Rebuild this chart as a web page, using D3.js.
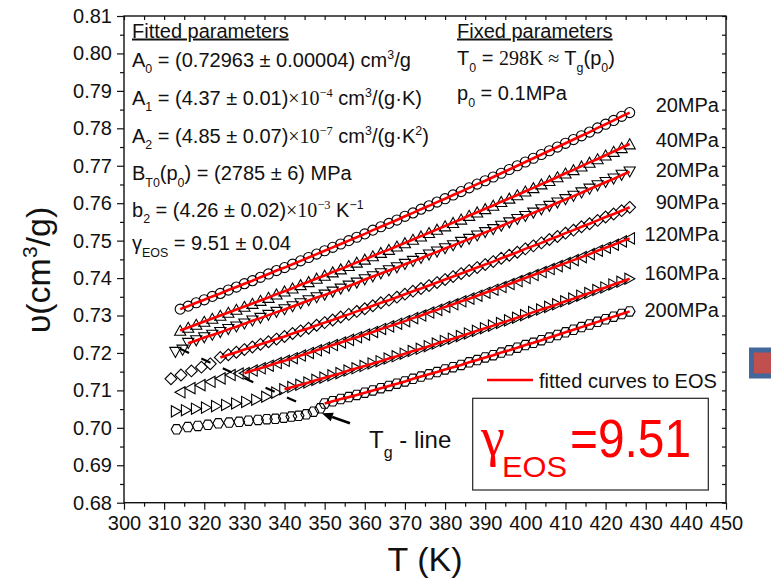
<!DOCTYPE html>
<html>
<head>
<meta charset="utf-8">
<script src="https://cdn.jsdelivr.net/npm/d3@7"></script>
<style>
  html, body { margin: 0; padding: 0; background: #fff; }
  svg { display: block; font-family: "Liberation Sans", Arial, sans-serif; }
  text { white-space: pre; }
</style>
</head>
<body>
<svg id="chart" width="771" height="581"></svg>
<script>
// ---------- data ----------
// common temperature grid (K) of the equilibrium-melt isobars
const meltTemps = [314,316,318,320,322,324,326,328,330,332,334,336,338,340,342,344,346,348,350,352,354,356,358,360,362,364,366,368,370,372,374,376,378,380,382,384,386,388,390,392,394,396,398,400,402,404,406,408,410,412,414,416,418,420,422,424,426];

const pressureLabels = ["20MPa", "40MPa", "20MPa", "90MPa", "120MPa", "160MPa", "200MPa"];

// specific volume (cm3/g) above Tg, aligned to the end of meltTemps
const melt20a = [0.7317,0.7325,0.7334,0.7342,0.7351,0.7359,0.7368,0.7376,0.7385,0.7393,0.7402,0.7411,0.7420,0.7428,0.7437,0.7446,0.7455,0.7464,0.7473,0.7482,0.7491,0.7500,0.7509,0.7518,0.7528,0.7537,0.7546,0.7555,0.7565,0.7574,0.7584,0.7593,0.7603,0.7612,0.7622,0.7631,0.7641,0.7651,0.7660,0.7670,0.7680,0.7690,0.7700,0.7710,0.7720,0.7730,0.7740,0.7750,0.7760,0.7770,0.7780,0.7790,0.7801,0.7811,0.7821,0.7832,0.7842];
const melt40 = [0.7260,0.7268,0.7276,0.7284,0.7292,0.7300,0.7308,0.7316,0.7324,0.7332,0.7340,0.7348,0.7357,0.7365,0.7373,0.7382,0.7390,0.7399,0.7407,0.7416,0.7424,0.7433,0.7442,0.7450,0.7459,0.7468,0.7476,0.7485,0.7494,0.7503,0.7512,0.7521,0.7530,0.7539,0.7548,0.7557,0.7567,0.7576,0.7585,0.7594,0.7604,0.7613,0.7622,0.7632,0.7641,0.7651,0.7660,0.7670,0.7680,0.7689,0.7699,0.7709,0.7718,0.7728,0.7738,0.7748,0.7758];
const melt20b = [0.7226,0.7233,0.7241,0.7248,0.7255,0.7263,0.7270,0.7278,0.7286,0.7293,0.7301,0.7309,0.7316,0.7324,0.7332,0.7340,0.7348,0.7355,0.7363,0.7371,0.7379,0.7387,0.7396,0.7404,0.7412,0.7420,0.7428,0.7437,0.7445,0.7453,0.7462,0.7470,0.7479,0.7487,0.7496,0.7504,0.7513,0.7522,0.7530,0.7539,0.7548,0.7557,0.7565,0.7574,0.7583,0.7592,0.7601,0.7610,0.7619,0.7628,0.7638,0.7647,0.7656,0.7665,0.7675,0.7684];
const melt90 = [0.7188,0.7195,0.7202,0.7209,0.7216,0.7223,0.7230,0.7237,0.7244,0.7252,0.7259,0.7266,0.7274,0.7281,0.7288,0.7296,0.7303,0.7311,0.7318,0.7326,0.7334,0.7341,0.7349,0.7357,0.7365,0.7372,0.7380,0.7388,0.7396,0.7404,0.7412,0.7420,0.7428,0.7436,0.7444,0.7453,0.7461,0.7469,0.7478,0.7486,0.7494,0.7503,0.7511,0.7520,0.7528,0.7537,0.7545,0.7554,0.7563,0.7571,0.7580,0.7589];
const melt120 = [0.7146,0.7153,0.7159,0.7166,0.7173,0.7179,0.7186,0.7193,0.7200,0.7207,0.7214,0.7221,0.7228,0.7235,0.7242,0.7249,0.7256,0.7264,0.7271,0.7278,0.7285,0.7293,0.7300,0.7308,0.7315,0.7323,0.7330,0.7338,0.7345,0.7353,0.7361,0.7369,0.7376,0.7384,0.7392,0.7400,0.7408,0.7416,0.7424,0.7432,0.7440,0.7448,0.7456,0.7464,0.7473,0.7481,0.7489,0.7498,0.7506];
const melt160 = [0.7103,0.7109,0.7115,0.7121,0.7128,0.7134,0.7140,0.7146,0.7153,0.7159,0.7165,0.7172,0.7178,0.7185,0.7191,0.7198,0.7205,0.7211,0.7218,0.7225,0.7232,0.7238,0.7245,0.7252,0.7259,0.7266,0.7273,0.7280,0.7287,0.7294,0.7301,0.7309,0.7316,0.7323,0.7330,0.7338,0.7345,0.7353,0.7360,0.7368,0.7375,0.7383,0.7390,0.7398];
const melt200 = [0.7065,0.7071,0.7077,0.7082,0.7088,0.7094,0.7100,0.7106,0.7112,0.7118,0.7124,0.7131,0.7137,0.7143,0.7149,0.7156,0.7162,0.7168,0.7175,0.7181,0.7188,0.7194,0.7201,0.7207,0.7214,0.7221,0.7227,0.7234,0.7241,0.7248,0.7255,0.7262,0.7269,0.7276,0.7283,0.7290,0.7297,0.7304,0.7311];

// glassy-state points below Tg (temperature K, volume cm3/g)
const glassT20b = [312.8, 314.6];
const glassV20b = [0.7202, 0.7208];
const glassT90 = [311.7, 314.2, 316.8, 319.3, 321.5];
const glassV90 = [0.7131, 0.7141, 0.7152, 0.7162, 0.7171];
const glassT120 = [314.0, 316.5, 319.0, 321.5, 324.0, 326.5, 328.5];
const glassV120 = [0.7095, 0.7106, 0.7114, 0.7123, 0.7132, 0.7141, 0.7145];
const glassT160 = [313.0, 315.5, 318.0, 320.5, 323.0, 325.5, 328.0, 330.5, 333.0, 335.5, 338.0];
const glassV160 = [0.7044, 0.7047, 0.7051, 0.7054, 0.7058, 0.7061, 0.7065, 0.7069, 0.7075, 0.7083, 0.7094];
const glassT200 = [313.1, 315.9, 318.4, 320.9, 323.5, 326.2, 328.7, 331.0, 333.4, 335.6, 337.7, 339.8, 341.7, 343.5, 345.4, 347.2, 348.9];
const glassV200 = [0.6996, 0.7002, 0.7005, 0.7008, 0.7012, 0.7014, 0.7016, 0.7019, 0.7021, 0.7023, 0.7024, 0.7027, 0.7030, 0.7032, 0.7036, 0.7043, 0.7052];

// glass-transition line (T, v) end points and the arrow pointing at it
const tgLineT = [313.95, 343.1];
const tgLineV = [0.7211, 0.7069];
const tgArrowT = [356.3, 349.3];
const tgArrowV = [0.70121, 0.70388];

// axis ticks
const xTicks = [300,310,320,330,340,350,360,370,380,390,400,410,420,430,440,450];
const xMinor = [305,315,325,335,345,355,365,375,385,395,405,415,425,435,445];
const yTicks = [0.68,0.69,0.70,0.71,0.72,0.73,0.74,0.75,0.76,0.77,0.78,0.79,0.80,0.81];
const yMinor = [0.685,0.695,0.705,0.715,0.725,0.735,0.745,0.755,0.765,0.775,0.785,0.795,0.805];

// ---------- layout ----------
const svg = d3.select("#chart");
const L = 124, R = 726, T = 16, B = 502.7;
const x = d3.scaleLinear().domain([300, 450]).range([L, R]);
const y = d3.scaleLinear().domain([0.68, 0.81]).range([B, T]);
const FONT = 20;

// marker outlines
const shapes = {
  circle: d3.symbol(d3.symbolCircle, 80)(),
  up: "M0,-5.2L5.6,4.8L-5.6,4.8Z",
  down: "M0,5.2L5.6,-4.8L-5.6,-4.8Z",
  diamond: "M0,-5.9L5.9,0L0,5.9L-5.9,0Z",
  left: "M-5.2,0L4.8,-5.6L4.8,5.6Z",
  right: "M5.2,0L-4.8,-5.6L-4.8,5.6Z",
  hexagon: "M-5.4,0L-2.7,-4.7L2.7,-4.7L5.4,0L2.7,4.7L-2.7,4.7Z"
};

const series = [
  { melt: melt20a, gT: [], gV: [], shape: "circle" },
  { melt: melt40, gT: [], gV: [], shape: "up" },
  { melt: melt20b, gT: glassT20b, gV: glassV20b, shape: "down" },
  { melt: melt90, gT: glassT90, gV: glassV90, shape: "diamond" },
  { melt: melt120, gT: glassT120, gV: glassV120, shape: "left" },
  { melt: melt160, gT: glassT160, gV: glassV160, shape: "right" },
  { melt: melt200, gT: glassT200, gV: glassV200, shape: "hexagon" }
].map((s, i) => {
  const temps = meltTemps.slice(meltTemps.length - s.melt.length);
  const meltPts = temps.map((t, j) => [t, s.melt[j]]);
  const glassPts = s.gT.map((t, j) => [t, s.gV[j]]);
  return { ...s, label: pressureLabels[i], meltPts, pts: glassPts.concat(meltPts) };
});

// ---------- axes ----------
function styleAxis(g) {
  g.select(".domain").remove();
  g.selectAll("line").attr("stroke", "#111").attr("stroke-width", 1.2);
  g.selectAll("text").attr("font-size", FONT).attr("fill", "#111")
    .attr("font-family", "Liberation Sans, Arial, sans-serif");
}
svg.append("g").attr("transform", `translate(0,${B})`)
  .call(d3.axisBottom(x).tickValues(xTicks).tickSize(7).tickPadding(6).tickFormat(d3.format("d"))).call(styleAxis);
svg.append("g").attr("transform", `translate(0,${B})`)
  .call(d3.axisBottom(x).tickValues(xMinor).tickSize(4).tickFormat("")).call(styleAxis);
svg.append("g").attr("transform", `translate(${L},0)`)
  .call(d3.axisLeft(y).tickValues(yTicks).tickSize(7).tickPadding(5).tickFormat(d3.format(".2f"))).call(styleAxis);
svg.append("g").attr("transform", `translate(${L},0)`)
  .call(d3.axisLeft(y).tickValues(yMinor).tickSize(4).tickFormat("")).call(styleAxis);
// mirrored inward ticks on top and right
svg.append("g").attr("transform", `translate(0,${T})`)
  .call(d3.axisTop(x).tickValues(xTicks.concat(xMinor)).tickSize(-4).tickFormat("")).call(styleAxis);
svg.append("g").attr("transform", `translate(${R},0)`)
  .call(d3.axisRight(y).tickValues(yTicks.concat(yMinor)).tickSize(-4).tickFormat("")).call(styleAxis);
svg.append("rect").attr("x", L).attr("y", T).attr("width", R - L).attr("height", B - T)
  .attr("fill", "none").attr("stroke", "#111").attr("stroke-width", 1.4);

// axis titles
const yTitle = svg.append("text").attr("transform", "translate(50,270) rotate(-90)")
  .attr("text-anchor", "middle").attr("font-size", 34).attr("fill", "#111");
yTitle.append("tspan").text("υ(cm");
yTitle.append("tspan").text("3").attr("font-size", 21).attr("dy", -13);
yTitle.append("tspan").text("/g)").attr("dy", 13);
svg.append("text").attr("x", (L + R) / 2).attr("y", 571).attr("text-anchor", "middle")
  .attr("font-size", 34).attr("fill", "#111").text("T (K)");

// ---------- data marks ----------
const plot = svg.append("g");

// glass-transition (Tg) dashed line
plot.append("path")
  .attr("d", d3.line().x(d => x(d[0])).y(d => y(d[1]))(tgLineT.map((t, i) => [t, tgLineV[i]])))
  .attr("stroke", "#000").attr("stroke-width", 2.2).attr("stroke-dasharray", "10 13.5").attr("fill", "none");

series.forEach(s => {
  plot.append("g").selectAll("path").data(s.pts).join("path")
    .attr("transform", d => `translate(${x(d[0])},${y(d[1])})`)
    .attr("d", shapes[s.shape])
    .attr("fill", "none").attr("stroke", "#000").attr("stroke-width", 1.1);
});

// fitted EOS curves through the equilibrium points
const fitLine = d3.line().x(d => x(d[0])).y(d => y(d[1]));
series.forEach(s => {
  plot.append("path").attr("d", fitLine(s.meltPts))
    .attr("fill", "none").attr("stroke", "#ff0000").attr("stroke-width", 2.6);
});

// pressure labels at the high-temperature end of each isobar
const labelDy = [-0.7, 2.9, 5.2, 1.2, 2.5, 1.4, 5.3];
series.forEach((s, i) => {
  const last = s.meltPts[s.meltPts.length - 1];
  svg.append("text").attr("x", 719).attr("y", y(last[1]) + labelDy[i])
    .attr("text-anchor", "end").attr("font-size", FONT).attr("fill", "#111").text(s.label);
});

// Tg-line arrow
{
  const x0 = x(tgArrowT[0]), y0 = y(tgArrowV[0]);
  const x1 = x(tgArrowT[1]), y1 = y(tgArrowV[1]);
  const ang = Math.atan2(y1 - y0, x1 - x0);
  const hl = 11, hw = 4.5;
  const bx = x1 - hl * Math.cos(ang), by = y1 - hl * Math.sin(ang);
  svg.append("line").attr("x1", x0).attr("y1", y0).attr("x2", bx).attr("y2", by)
    .attr("stroke", "#000").attr("stroke-width", 2.6);
  svg.append("path").attr("d",
    `M${x1},${y1}L${bx + hw * Math.sin(ang)},${by - hw * Math.cos(ang)}L${bx - hw * Math.sin(ang)},${by + hw * Math.cos(ang)}Z`)
    .attr("fill", "#000");
}
const tgText = svg.append("text").attr("x", 369).attr("y", 448).attr("font-size", 24).attr("fill", "#111");
tgText.append("tspan").text("T");
tgText.append("tspan").text("g").attr("font-size", 16).attr("dy", 10);
tgText.append("tspan").text(" - line").attr("dy", -10);

// ---------- text blocks ----------
function richLine(x0, y0, segs, size) {
  const t = svg.append("text").attr("x", x0).attr("y", y0).attr("font-size", size).attr("fill", "#111");
  let shift = 0;
  segs.forEach(s => {
    const [str, kind] = Array.isArray(s) ? s : [s, ""];
    const small = kind.includes("sub") || kind.includes("sup");
    const target = kind.includes("sub") ? 6.5 : kind.includes("sup") ? -8 : 0;
    const ts = t.append("tspan").text(str).attr("dy", target - shift);
    shift = target;
    if (small) ts.attr("font-size", size * 0.62);
    if (kind.includes("serif")) ts.attr("font-family", "Liberation Serif, Times New Roman, serif");
  });
  return t;
}

const X1 = 132, X2 = 457;
richLine(X1, 37.5, ["Fitted parameters"], FONT).attr("text-decoration", "underline");
richLine(X1, 66.7, ["A", ["0", "sub"], " = (0.72963 ± 0.00004) cm", ["3", "sup"], "/g"], FONT);
richLine(X1, 104.5, ["A", ["1", "sub"], " = (4.37 ± 0.01)", ["×10", "serif"], ["−4", "serif sup"], " cm", ["3", "sup"], "/(g·K)"], FONT);
richLine(X1, 142.5, ["A", ["2", "sub"], " = (4.85 ± 0.07)", ["×10", "serif"], ["−7", "serif sup"], " cm", ["3", "sup"], "/(g·K", ["2", "sup"], ")"], FONT);
richLine(X1, 180, ["B", ["T0", "sub"], "(p", ["0", "sub"], ") = (2785 ± 6) MPa"], FONT);
richLine(X1, 216.5, ["b", ["2", "sub"], " = (4.26 ± 0.02)", ["×10", "serif"], ["−3", "serif sup"], " K", ["−1", "sup"]], FONT);
richLine(X1, 250, ["γ", ["EOS", "sub"], " = 9.51 ± 0.04"], FONT);

richLine(X2, 37.5, ["Fixed parameters"], FONT).attr("text-decoration", "underline");
richLine(X2, 65, ["T", ["0", "sub"], " = ", ["298K ≈ ", "serif"], "T", ["g", "sub"], "(p", ["0", "sub"], ")"], FONT);
richLine(X2, 100, ["p", ["0", "sub"], " = 0.1MPa"], FONT);

// ---------- legend ----------
svg.append("line").attr("x1", 487).attr("x2", 533).attr("y1", 380).attr("y2", 380)
  .attr("stroke", "#ff0000").attr("stroke-width", 2.6);
svg.append("text").attr("x", 539).attr("y", 388).attr("font-size", FONT).attr("fill", "#111")
  .text("fitted curves to EOS");

// highlighted exponent box
svg.append("rect").attr("x", 472.7).attr("y", 398.3).attr("width", 235.6).attr("height", 91.7)
  .attr("fill", "#fff").attr("stroke", "#222").attr("stroke-width", 1.2);
svg.append("text").attr("x", 481).attr("y", 455).attr("font-size", 54).attr("fill", "#ff0000")
  .attr("font-family", "Liberation Serif, serif").text("γ");
svg.append("text").attr("x", 502).attr("y", 476.7).attr("font-size", 30).attr("fill", "#ff0000")
  .attr("textLength", 65).attr("lengthAdjust", "spacingAndGlyphs").text("EOS");
svg.append("text").attr("x", 570).attr("y", 456.7).attr("font-size", 54).attr("fill", "#ff0000")
  .attr("textLength", 121).attr("lengthAdjust", "spacingAndGlyphs").text("=9.51");

// swatch at the right margin
svg.append("rect").attr("x", 751.5).attr("y", 350).attr("width", 40).attr("height", 26)
  .attr("fill", "#c0504d").attr("stroke", "#42679a").attr("stroke-width", 5);
</script>
</body>
</html>
